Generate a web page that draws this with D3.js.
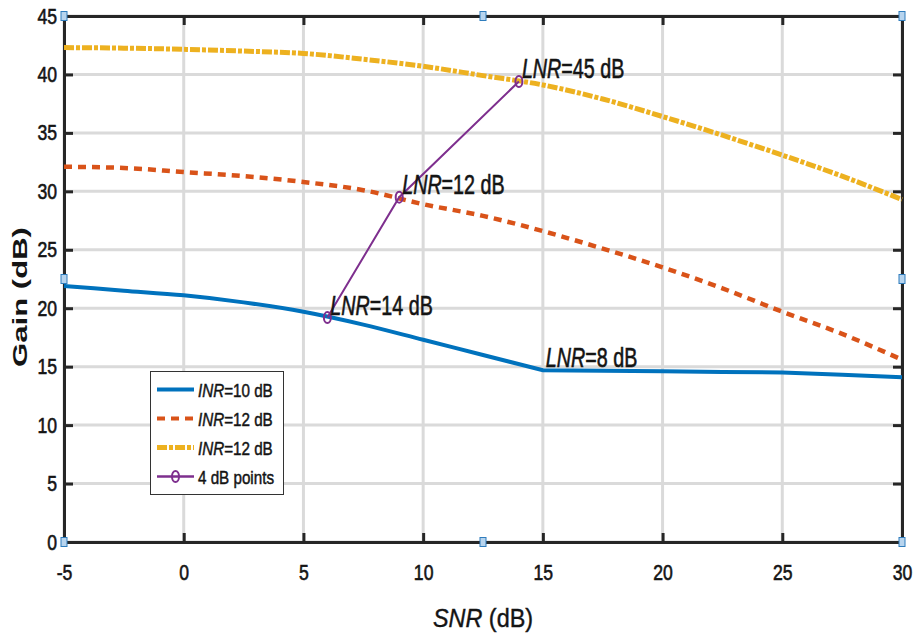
<!DOCTYPE html>
<html>
<head>
<meta charset="utf-8">
<script src="https://cdn.jsdelivr.net/npm/d3@7"></script>
<style>
  html, body { margin: 0; padding: 0; background: #fff; }
  svg { display: block; }
</style>
</head>
<body>
<svg id="chart" width="913" height="637"></svg>
<script>
// Gain versus SNR for three INR settings, with the 4 dB operating points
const snr = [-5, -2.5, 0, 2.5, 5, 7.5, 10, 12.5, 15, 17.5, 20, 22.5, 25, 27.5, 30];
const gainInr10 = [21.9, 21.5, 21.1, 20.5, 19.7, 18.6, 17.3, 16.0, 14.7, 14.65, 14.6, 14.55, 14.5, 14.3, 14.1];
const gainInr12a = [32.1, 32.0, 31.65, 31.3, 30.8, 30.1, 28.9, 27.9, 26.6, 25.1, 23.5, 21.7, 19.7, 17.8, 15.6];
const gainInr12b = [42.3, 42.25, 42.15, 42.0, 41.8, 41.3, 40.7, 39.9, 39.1, 37.9, 36.4, 34.8, 33.1, 31.3, 29.3];
const pointSnr = [6, 9, 14];
const pointGain = [19.2, 29.5, 39.4];
const lnrSnr = [6, 9, 14, 15];
const lnrGain = [19.2, 29.5, 39.4, 14.7];
const lnrText = ["=14 dB", "=12 dB", "=45 dB", "=8 dB"];
const xTicks = [-5, 0, 5, 10, 15, 20, 25, 30];
const yTicks = [0, 5, 10, 15, 20, 25, 30, 35, 40, 45];
const legendLabels = ["=10 dB", "=12 dB", "=12 dB", "4 dB points"];
const blueKneeSnr = 15;  // the INR=10 dB curve levels off here

const svg = d3.select("#chart");
const plotLeft = 64, plotRight = 902, plotTop = 16, plotBottom = 542;
const x = d3.scaleLinear().domain([-5, 30]).range([plotLeft, plotRight]);
const y = d3.scaleLinear().domain([0, 45]).range([plotBottom, plotTop]);

const sans = "'Liberation Sans', Arial, Helvetica, sans-serif";
const axisColor = "#262626";
const textColor = "#141414";
const squeeze = 0.8;   // condensed lettering
const colors = { blue: "#0072BD", orange: "#D95319", yellow: "#EDB120", purple: "#7E2F8E" };
const tickFmt = d => String(d);  // plain hyphen for negatives

// grid
const grid = svg.append("g");
grid.selectAll("line.gx").data(xTicks).join("line")
  .attr("x1", d => x(d)).attr("x2", d => x(d))
  .attr("y1", plotTop).attr("y2", plotBottom)
  .attr("stroke", "#dadada").attr("stroke-width", 3);
grid.selectAll("line.gy").data(yTicks).join("line")
  .attr("y1", d => y(d)).attr("y2", d => y(d))
  .attr("x1", plotLeft).attr("x2", plotRight)
  .attr("stroke", "#dadada").attr("stroke-width", 3);

// axes with inward ticks on all four sides
function styleAxis(g) {
  g.selectAll("path").attr("stroke", axisColor).attr("stroke-width", 3);
  g.selectAll(".tick line").attr("stroke", axisColor).attr("stroke-width", 3);
  g.selectAll("text").attr("fill", textColor).attr("font-family", sans).attr("font-size", 22)
    .attr("stroke", textColor).attr("stroke-width", 0.6);
}
const xAxis = svg.append("g").attr("transform", `translate(0,${plotBottom})`)
  .call(d3.axisBottom(x).tickValues(xTicks).tickSize(-9).tickSizeOuter(0).tickPadding(22).tickFormat(tickFmt));
xAxis.call(styleAxis);
xAxis.selectAll("text").attr("transform", `scale(${squeeze},1)`);

const yAxis = svg.append("g").attr("transform", `translate(${plotLeft},0)`)
  .call(d3.axisLeft(y).tickValues(yTicks).tickSize(-9).tickSizeOuter(0).tickFormat(tickFmt));
yAxis.call(styleAxis);
yAxis.selectAll("text").attr("x", 0).attr("transform", `translate(-7,0) scale(${squeeze},1)`);

svg.append("g").attr("transform", `translate(0,${plotTop})`)
  .call(d3.axisTop(x).tickValues(xTicks).tickSize(-9).tickSizeOuter(0).tickFormat(""))
  .call(styleAxis);
svg.append("g").attr("transform", `translate(${plotRight},0)`)
  .call(d3.axisRight(y).tickValues(yTicks).tickSize(-9).tickSizeOuter(0).tickFormat(""))
  .call(styleAxis);

// series
const smooth = d3.line().x(d => x(d[0])).y(d => y(d[1])).curve(d3.curveMonotoneX);
const straight = d3.line().x(d => x(d[0])).y(d => y(d[1]));
const plot = svg.append("g");

// INR=10 dB: smooth decline up to the knee, then the near-flat tail
const blueData = snr.map((v, i) => [v, gainInr10[i]]);
const blueD = smooth(blueData.filter(d => d[0] <= blueKneeSnr)) +
              straight(blueData.filter(d => d[0] >= blueKneeSnr)).replace(/^M/, "L");
plot.append("path").attr("d", blueD)
  .attr("fill", "none").attr("stroke", colors.blue).attr("stroke-width", 4)
  .attr("stroke-linejoin", "miter");

plot.append("path")
  .datum(snr.map((v, i) => [v, gainInr12a[i]]))
  .attr("d", smooth)
  .attr("fill", "none").attr("stroke", colors.orange)
  .attr("stroke-width", 4.5).attr("stroke-dasharray", "8,6");

plot.append("path")
  .datum(snr.map((v, i) => [v, gainInr12b[i]]))
  .attr("d", smooth)
  .attr("fill", "none").attr("stroke", colors.yellow)
  .attr("stroke-width", 5).attr("stroke-dasharray", "10,2,4,2");

// 4 dB points
const pts = pointSnr.map((v, i) => [v, pointGain[i]]);
plot.append("path").datum(pts)
  .attr("d", straight)
  .attr("fill", "none").attr("stroke", colors.purple).attr("stroke-width", 2);
plot.selectAll("ellipse.pt").data(pts).join("ellipse")
  .attr("cx", d => x(d[0])).attr("cy", d => y(d[1]))
  .attr("rx", 3.5).attr("ry", 5.5)
  .attr("fill", "none").attr("stroke", colors.purple).attr("stroke-width", 2);

// LNR annotations
const notes = svg.append("g");
lnrSnr.forEach((v, i) => {
  const t = notes.append("text")
    .attr("transform", `translate(${x(v) + 3},${y(lnrGain[i]) - 3}) scale(0.73,1)`)
    .attr("font-family", sans).attr("font-size", 27).attr("fill", textColor)
    .attr("stroke", textColor).attr("stroke-width", 0.6);
  t.append("tspan").attr("font-style", "italic").text("LNR");
  t.append("tspan").text(lnrText[i]);
});

// axis titles
const xt = svg.append("text")
  .attr("transform", "translate(483,627) scale(0.9,1)")
  .attr("text-anchor", "middle")
  .attr("font-family", sans).attr("font-size", 26).attr("fill", textColor)
  .attr("stroke", textColor).attr("stroke-width", 0.4);
xt.append("tspan").attr("font-style", "italic").text("SNR");
xt.append("tspan").text(" (dB)");

svg.append("text")
  .attr("transform", "translate(27,297) rotate(-90)")
  .attr("text-anchor", "middle")
  .attr("font-family", sans).attr("font-weight", "bold").attr("font-size", 20)
  .attr("textLength", 140).attr("lengthAdjust", "spacingAndGlyphs")
  .attr("fill", textColor)
  .text("Gain (dB)");

// legend
const lg = svg.append("g");
lg.append("rect").attr("x", 150.5).attr("y", 371.5).attr("width", 133).attr("height", 123)
  .attr("fill", "#fff").attr("stroke", "#333").attr("stroke-width", 1);
const legendItems = [
  { color: colors.blue, width: 4, dash: null, marker: false, ital: "INR" },
  { color: colors.orange, width: 4, dash: "8,6", marker: false, ital: "INR" },
  { color: colors.yellow, width: 5, dash: "10,2,4,2", marker: false, ital: "INR" },
  { color: colors.purple, width: 2.5, dash: null, marker: true, ital: "" }
];
legendItems.forEach((it, i) => {
  const cy = 389.5 + i * 29;
  lg.append("line").attr("x1", 157).attr("x2", 194).attr("y1", cy).attr("y2", cy)
    .attr("stroke", it.color).attr("stroke-width", it.width).attr("stroke-dasharray", it.dash);
  if (it.marker) {
    lg.append("ellipse").attr("cx", 175.5).attr("cy", cy).attr("rx", 3.5).attr("ry", 5.5)
      .attr("fill", "none").attr("stroke", it.color).attr("stroke-width", 2);
  }
  const t = lg.append("text").attr("transform", `translate(198,${cy + 7}) scale(${squeeze},1)`)
    .attr("font-family", sans).attr("font-size", 19).attr("fill", textColor)
    .attr("stroke", textColor).attr("stroke-width", 0.5);
  if (it.ital) t.append("tspan").attr("font-style", "italic").text(it.ital);
  t.append("tspan").text(legendLabels[i]);
});

// selection handles around the axes box
const handles = [[plotLeft, plotTop], [(plotLeft + plotRight) / 2, plotTop], [plotRight, plotTop],
                 [plotLeft, (plotTop + plotBottom) / 2], [plotRight, (plotTop + plotBottom) / 2],
                 [plotLeft, plotBottom], [(plotLeft + plotRight) / 2, plotBottom], [plotRight, plotBottom]];
svg.append("g").selectAll("rect").data(handles).join("rect")
  .attr("x", d => d[0] - 3).attr("y", d => d[1] - 4.5)
  .attr("width", 6).attr("height", 9)
  .attr("fill", "#b7d4ee").attr("stroke", "#2f7dbd").attr("stroke-width", 1);
</script>
</body>
</html>
